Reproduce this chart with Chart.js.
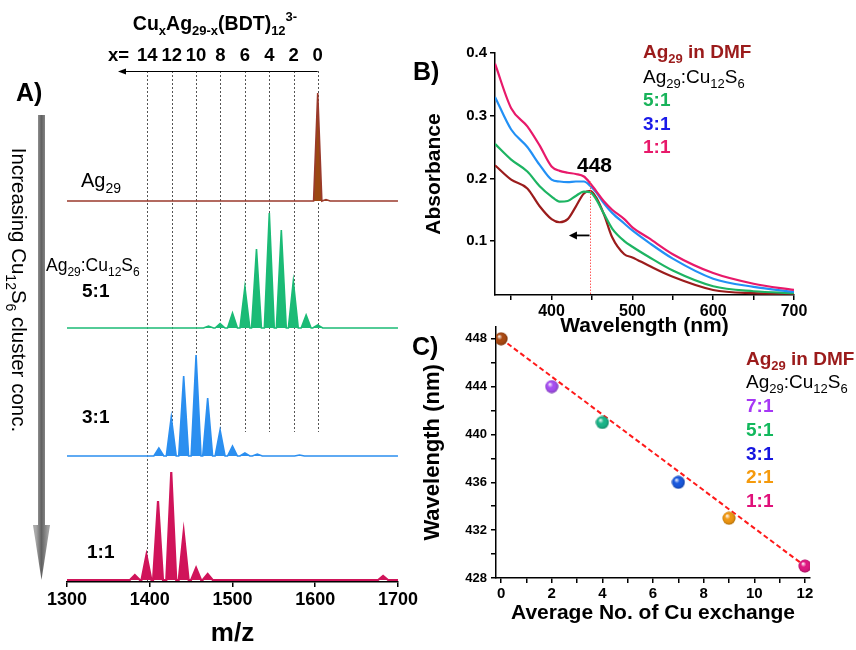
<!DOCTYPE html>
<html>
<head>
<meta charset="utf-8">
<script src="https://cdn.jsdelivr.net/npm/chart.js@4"></script>
<style>
  body { margin: 0; background: #fff; }
  #wrap { position: relative; width: 856px; height: 650px; overflow: hidden; background: #fff; }
  canvas { position: absolute; }
</style>
</head>
<body>
<div id="wrap">
  <canvas id="cA" width="420" height="650" style="left:0;top:0"></canvas>
  <canvas id="cB" width="456" height="340" style="left:400px;top:0"></canvas>
  <canvas id="cC" width="456" height="335" style="left:400px;top:315px"></canvas>
</div>
<script>
// ---- panel A : ESI MS, peak centres (m/z) and heights ----
const cuCount   = [14, 12, 10, 8, 6, 4, 2, 0];
const cuLinePos = [1397, 1426.5, 1456, 1485.5, 1515, 1544.5, 1574, 1603];
const agMz  = [1603, 1613];
const agInt = [108, 1.5];
const r51Mz  = [1471, 1485, 1500, 1515, 1529, 1544.5, 1559, 1573.5, 1589, 1603];
const r51Int = [2, 4.5, 15, 41, 79, 115, 98, 47, 13, 3];
const r31Mz  = [1411, 1426, 1441, 1456, 1470, 1485, 1500, 1515, 1530, 1581];
const r31Int = [8, 39, 80, 101, 58, 26, 10, 3, 2, 1];
const r11Mz  = [1382, 1396, 1410, 1426, 1441, 1456, 1470, 1682];
const r11Int = [5, 25, 79, 108, 48, 12, 6, 4];
const traceOffset = [381, 254, 126, 2];

// ---- panel B : UV-vis ----
const wl     = [330, 350, 370, 385, 400, 410, 420, 430, 440, 448, 455, 465, 475, 490, 500, 520, 550, 600, 650, 700];
const absAg  = [.221, .198, .184, .156, .135, .130, .135, .155, .176, .180, .170, .142, .106, .079, .074, .061, .043, .022, .017, .016];
const abs51  = [.255, .230, .211, .188, .171, .163, .164, .172, .179, .178, .167, .143, .120, .100, .091, .075, .053, .028, .020, .017];
const abs31  = [.330, .278, .250, .222, .198, .195, .194, .195, .195, .188, .178, .160, .145, .128, .117, .098, .072, .040, .027, .019];
const abs11  = [.383, .312, .283, .253, .219, .212, .209, .207, .203, .192, .180, .163, .150, .135, .122, .105, .079, .049, .032, .022];

// ---- panel C : peak shift vs Cu exchange ----
const cuExchange = [0, 2, 4, 7, 9, 12];
const peakWl     = [448, 444, 441, 436, 433, 429];
const ptColor    = ['#a9470f', '#a64df2', '#17b487', '#1656de', '#f0960e', '#df1680'];

const FONT = 'Arial, "Liberation Sans", sans-serif';
Chart.defaults.font.family = FONT;
Chart.defaults.color = '#000';

// text with sub (-1) / super (1) script parts
function rich(ctx, parts, x, y, size, weight, color, align) {
  ctx.save();
  ctx.fillStyle = color;
  ctx.textBaseline = 'alphabetic';
  ctx.textAlign = 'left';
  const fontOf = k => `${weight} ${k === 0 ? size : Math.round(size * 0.68)}px ${FONT}`;
  let w = 0;
  parts.forEach(([t, k]) => { ctx.font = fontOf(k); w += ctx.measureText(t).width; });
  let cx = align === 'center' ? x - w / 2 : align === 'right' ? x - w : x;
  parts.forEach(([t, k]) => {
    ctx.font = fontOf(k);
    const dy = k < 0 ? size * 0.28 : k > 0 ? -size * 0.45 : 0;
    ctx.fillText(t, cx, y + dy);
    cx += ctx.measureText(t).width;
  });
  ctx.restore();
}

function peakTrace(mz, inten, base, hw) {
  const pts = [{ x: 1300, y: base }];
  mz.forEach((c, i) => {
    pts.push({ x: c - hw, y: base }, { x: c, y: base + inten[i] }, { x: c + hw, y: base });
  });
  pts.push({ x: 1700, y: base });
  return pts;
}

function arrowHead(ctx, x, y, dir, len, half) {
  ctx.beginPath();
  ctx.moveTo(x, y);
  ctx.lineTo(x - dir * len, y - half);
  ctx.lineTo(x - dir * len, y + half);
  ctx.closePath();
  ctx.fill();
}

const Ag29 = [['Ag', 0], ['29', -1]];
const AgCu = [['Ag', 0], ['29', -1], [':Cu', 0], ['12', -1], ['S', 0], ['6', -1]];

// ---------------- panel A ----------------
const annotA = {
  id: 'annotA',
  beforeDatasetsDraw(chart) {
    const { ctx, scales: { x, y } } = chart;
    ctx.save();
    ctx.strokeStyle = '#555';
    ctx.lineWidth = 1;
    ctx.setLineDash([2, 2]);
    cuLinePos.forEach((m, i) => {
      const px = Math.round(x.getPixelForValue(m)) + 0.5;
      ctx.beginPath();
      ctx.moveTo(px, y.getPixelForValue(511));
      ctx.lineTo(px, y.getPixelForValue(i === 0 ? 0 : 150));
      ctx.stroke();
    });
    ctx.restore();
  },
  afterDraw(chart) {
    const { ctx, scales: { x, y } } = chart;
    ctx.save();
    // arrow over the dashed lines
    const ay = Math.round(y.getPixelForValue(511)) + 0.5;
    ctx.strokeStyle = '#000'; ctx.fillStyle = '#000'; ctx.lineWidth = 1;
    ctx.beginPath();
    ctx.moveTo(x.getPixelForValue(cuLinePos[cuLinePos.length - 1]), ay);
    ctx.lineTo(124, ay);
    ctx.stroke();
    arrowHead(ctx, 118, ay, -1, 8, 3);

    rich(ctx, [['Cu', 0], ['x', -1], ['Ag', 0], ['29-x', -1], ['(BDT)', 0], ['12', -1], ['3-', 1]], 215, 30, 19.5, 'bold', '#000', 'center');
    rich(ctx, [['x=', 0]], 108, 61, 18.5, 'bold', '#000', 'left');
    cuCount.forEach((n, i) => {
      rich(ctx, [[String(n), 0]], x.getPixelForValue(cuLinePos[i]), 61, 18.5, 'bold', '#000', 'center');
    });

    rich(ctx, [['A)', 0]], 16, 101, 25, 'bold', '#000', 'left');
    rich(ctx, Ag29, 81, 187, 20, 'normal', '#000', 'left');
    rich(ctx, AgCu, 46, 271, 17.5, 'normal', '#000', 'left');
    rich(ctx, [['5:1', 0]], 82, 297, 19, 'bold', '#000', 'left');
    rich(ctx, [['3:1', 0]], 82, 423, 19, 'bold', '#000', 'left');
    rich(ctx, [['1:1', 0]], 87, 558, 19, 'bold', '#000', 'left');

    // grey vertical arrow
    const g = ctx.createLinearGradient(36, 0, 48, 0);
    g.addColorStop(0, '#a8a8a8'); g.addColorStop(0.45, '#616161'); g.addColorStop(1, '#a0a0a0');
    ctx.fillStyle = g;
    ctx.fillRect(38, 115, 7, 412);
    ctx.beginPath();
    ctx.moveTo(33, 525); ctx.lineTo(50, 525); ctx.lineTo(41.5, 580); ctx.closePath();
    ctx.fill();

    ctx.translate(19, 290);
    ctx.rotate(Math.PI / 2);
    rich(ctx, [['Increasing Cu', 0], ['12', -1], ['S', 0], ['6', -1], [' cluster conc.', 0]], 0, 7, 20.5, 'normal', '#000', 'center');
    ctx.restore();
  }
};

new Chart(document.getElementById('cA'), {
  type: 'line',
  data: {
    datasets: [
      { data: peakTrace(agMz, agInt, traceOffset[0], 5), borderColor: '#9a3a2c', backgroundColor: '#9b4812', fill: { value: traceOffset[0] } },
      { data: peakTrace(r51Mz, r51Int, traceOffset[1], 6), borderColor: '#1bbb76', backgroundColor: '#1bbb76', fill: { value: traceOffset[1] } },
      { data: peakTrace(r31Mz, r31Int, traceOffset[2], 6), borderColor: '#2b8ff0', backgroundColor: '#2b8ff0', fill: { value: traceOffset[2] } },
      { data: peakTrace(r11Mz, r11Int, traceOffset[3], 6), borderColor: '#d0145a', backgroundColor: '#d0145a', fill: { value: traceOffset[3] }, borderWidth: 2.2 }
    ]
  },
  options: {
    responsive: false,
    animation: false,
    layout: { padding: { left: 67, right: 22, top: 70, bottom: 0 } },
    plugins: { legend: { display: false }, tooltip: { enabled: false } },
    elements: { point: { radius: 0 }, line: { tension: 0, borderWidth: 1.6 } },
    scales: {
      x: {
        type: 'linear', min: 1300, max: 1700,
        ticks: { stepSize: 100, autoSkip: false, includeBounds: false, maxRotation: 0, padding: 2,
                 callback: v => String(v), font: { size: 18, weight: 'bold' } },
        grid: { drawOnChartArea: false, tickLength: 5, color: '#000', lineWidth: 1.5 },
        border: { color: '#000', width: 1.5 },
        title: { display: true, text: 'm/z', font: { size: 26, weight: 'bold' }, padding: { top: 0, bottom: 1 } },
        afterFit(s) { s.height = 68; }
      },
      y: { display: false, min: 0, max: 512 }
    }
  },
  plugins: [annotA]
});

// ---------------- panel B ----------------
const annotB = {
  id: 'annotB',
  afterDraw(chart) {
    const { ctx, scales: { x, y } } = chart;
    ctx.save();
    const px = Math.round(x.getPixelForValue(448)) + 0.5;
    ctx.strokeStyle = '#ff5a5a'; ctx.lineWidth = 1; ctx.setLineDash([1.5, 1.5]);
    ctx.beginPath(); ctx.moveTo(px, y.getPixelForValue(0.195)); ctx.lineTo(px, chart.chartArea.bottom); ctx.stroke();
    ctx.setLineDash([]);
    const ay = y.getPixelForValue(0.109);
    ctx.strokeStyle = '#000'; ctx.fillStyle = '#000'; ctx.lineWidth = 1.8;
    ctx.beginPath(); ctx.moveTo(px - 1, ay); ctx.lineTo(x.getPixelForValue(428), ay); ctx.stroke();
    arrowHead(ctx, x.getPixelForValue(421.5), ay, -1, 8, 4);

    rich(ctx, [['448', 0]], 177, 172, 21, 'bold', '#000', 'left');
    rich(ctx, [['B)', 0]], 13, 80, 25, 'bold', '#000', 'left');
    rich(ctx, [['Ag', 0], ['29', -1], [' in DMF', 0]], 243, 58, 19, 'bold', '#9b1b1b', 'left');
    rich(ctx, AgCu, 243, 83, 19, 'normal', '#000', 'left');
    rich(ctx, [['5:1', 0]], 243, 106, 19, 'bold', '#18b35a', 'left');
    rich(ctx, [['3:1', 0]], 243, 129.5, 19, 'bold', '#1a1ae8', 'left');
    rich(ctx, [['1:1', 0]], 243, 153, 19, 'bold', '#e8196a', 'left');
    ctx.restore();
  }
};

const uv = (arr) => wl.map((w, i) => ({ x: w, y: arr[i] }));
new Chart(document.getElementById('cB'), {
  type: 'line',
  data: {
    datasets: [
      { data: uv(abs11), borderColor: '#e8196a' },
      { data: uv(abs31), borderColor: '#2290f5' },
      { data: uv(abs51), borderColor: '#1db462' },
      { data: uv(absAg), borderColor: '#9b1c1c' }
    ]
  },
  options: {
    responsive: false,
    animation: false,
    layout: { padding: { left: 0, right: 62, top: 53, bottom: 0 } },
    plugins: { legend: { display: false }, tooltip: { enabled: false } },
    elements: { point: { radius: 0 }, line: { cubicInterpolationMode: 'monotone', borderWidth: 2.2, fill: false } },
    scales: {
      x: {
        type: 'linear', min: 330, max: 700,
        ticks: { stepSize: 50, autoSkip: false, includeBounds: false, maxRotation: 0, padding: 2,
                 callback: v => (v % 100 === 0 ? String(v) : ''), font: { size: 16, weight: 'bold' } },
        grid: { drawOnChartArea: false, tickLength: 5, color: '#000', lineWidth: 1.5 },
        border: { color: '#000', width: 1.5 },
        title: { display: true, text: 'Wavelength (nm)', font: { size: 21, weight: 'bold' }, padding: { top: 0, bottom: 1 } },
        afterFit(s) { s.height = 45; }
      },
      y: {
        min: 0.014, max: 0.4,
        ticks: { stepSize: 0.1, autoSkip: false, includeBounds: false, padding: 3,
                 callback: v => v.toFixed(1), font: { size: 15, weight: 'bold' } },
        grid: { drawOnChartArea: false, tickLength: 5, color: '#000', lineWidth: 1.5 },
        border: { color: '#000', width: 1.5 },
        title: { display: true, text: 'Absorbance', font: { size: 21, weight: 'bold' }, padding: { top: 22, bottom: 0 } },
        afterFit(s) { s.width = 95; }
      }
    }
  },
  plugins: [annotB]
});

// ---------------- panel C ----------------
function sphere(col) {
  const c = document.createElement('canvas');
  c.width = c.height = 14;
  const g = c.getContext('2d');
  g.fillStyle = col;
  g.beginPath(); g.arc(7, 7, 6.5, 0, Math.PI * 2); g.fill();
  const sh = g.createRadialGradient(5, 4.5, 0.5, 7, 7, 7);
  sh.addColorStop(0, 'rgba(255,255,255,0.85)');
  sh.addColorStop(0.35, 'rgba(255,255,255,0)');
  sh.addColorStop(0.8, 'rgba(0,0,0,0.1)');
  sh.addColorStop(1, 'rgba(0,0,0,0.4)');
  g.fillStyle = sh;
  g.beginPath(); g.arc(7, 7, 6.5, 0, Math.PI * 2); g.fill();
  return c;
}

const annotC = {
  id: 'annotC',
  afterDraw(chart) {
    const { ctx } = chart;
    rich(ctx, [['C)', 0]], 12, 40, 25, 'bold', '#000', 'left');
    const lx = 346;
    rich(ctx, [['Ag', 0], ['29', -1], [' in DMF', 0]], lx, 50, 19, 'bold', '#9b1b1b', 'left');
    rich(ctx, AgCu, lx, 73, 19, 'normal', '#000', 'left');
    rich(ctx, [['7:1', 0]], lx, 97, 19, 'bold', '#a637f5', 'left');
    rich(ctx, [['5:1', 0]], lx, 121, 19, 'bold', '#12b85c', 'left');
    rich(ctx, [['3:1', 0]], lx, 145, 19, 'bold', '#1515e0', 'left');
    rich(ctx, [['2:1', 0]], lx, 168, 19, 'bold', '#f59a0c', 'left');
    rich(ctx, [['1:1', 0]], lx, 192, 19, 'bold', '#e0107a', 'left');
  }
};

const last = cuExchange.length - 1;
new Chart(document.getElementById('cC'), {
  type: 'scatter',
  data: {
    datasets: [
      {
        data: cuExchange.map((v, i) => ({ x: v, y: peakWl[i] })),
        pointStyle: ptColor.map(sphere),
        pointRadius: 7
      },
      {
        data: [{ x: cuExchange[0], y: peakWl[0] }, { x: cuExchange[last], y: peakWl[last] }],
        showLine: true, borderColor: '#ff1a1a', borderWidth: 2, borderDash: [5, 3], pointRadius: 0
      }
    ]
  },
  options: {
    responsive: false,
    animation: false,
    layout: { padding: { left: 0, right: 46, top: 8, bottom: 0 } },
    plugins: { legend: { display: false }, tooltip: { enabled: false } },
    scales: {
      x: {
        type: 'linear', min: -0.2, max: 12.2,
        ticks: { stepSize: 1, autoSkip: false, includeBounds: false, maxRotation: 0, padding: 2,
                 callback: v => (v % 2 === 0 ? String(v) : ''), font: { size: 15, weight: 'bold' } },
        grid: { drawOnChartArea: false, tickLength: 5, color: '#000', lineWidth: 1.5 },
        border: { color: '#000', width: 1.5 },
        title: { display: true, text: 'Average No. of Cu exchange', font: { size: 21, weight: 'bold' }, padding: { top: 0, bottom: 24 } },
        afterFit(s) { s.height = 72; }
      },
      y: {
        min: 428, max: 449,
        ticks: { stepSize: 2, autoSkip: false, includeBounds: false, padding: 4,
                 callback: v => (v % 4 === 0 ? String(v) : ''), font: { size: 13, weight: 'bold' } },
        grid: { drawOnChartArea: false, tickLength: 5, color: '#000', lineWidth: 1.5 },
        border: { color: '#000', width: 1.5 },
        title: { display: true, text: 'Wavelength (nm)', font: { size: 22, weight: 'bold' }, padding: { top: 20, bottom: 0 } },
        afterFit(s) { s.width = 96; }
      }
    }
  },
  plugins: [annotC]
});
</script>
</body>
</html>
